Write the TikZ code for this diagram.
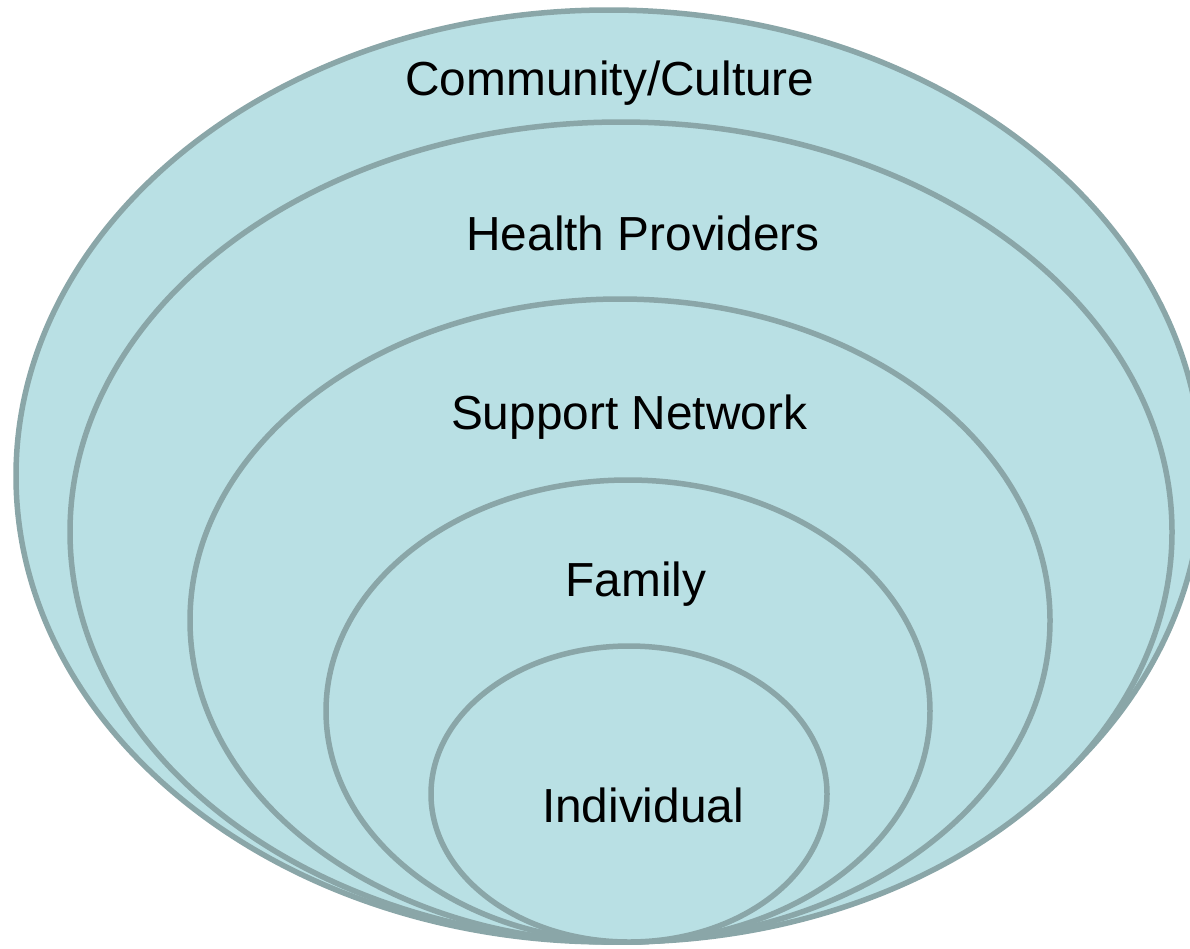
\documentclass[tikz,border=0pt]{standalone}
\usepackage{fontspec}
\setmainfont{Liberation Sans}
\definecolor{ringfill}{RGB}{185,224,228}
\definecolor{ringline}{RGB}{138,166,168}
\begin{document}
\begin{tikzpicture}[x=1pt,y=-1pt,
    ring/.style={draw=ringline,fill=ringfill,line width=5.5pt},
    lbl/.style={anchor=base,inner sep=0pt,font=\fontsize{47.8}{56}\selectfont}
  ]
  \useasboundingbox (0,0) rectangle (1190,948);
  \clip (0,0) rectangle (1190,948);

  % nested circles, all resting on the same bottom point
  \draw[ring] (609,476) ellipse [x radius=593,y radius=466];
  \draw[ring] (621,532) ellipse [x radius=551,y radius=410];
  \draw[ring] (620,620.5) ellipse [x radius=430,y radius=321.5];
  \draw[ring] (628,711) ellipse [x radius=302,y radius=231];
  \draw[ring] (629,794) ellipse [x radius=198,y radius=148];

  \node[lbl] (community) at (610,95) {Community/Culture};
  \node[lbl] (providers) at (643,250) {Health Providers};
  \node[lbl] (support) at (629,429) {Support Network};
  \node[lbl] (family) at (636,596) {Family};
  \node[lbl] (individual) at (643,822) {Individual};
\end{tikzpicture}
\end{document}
